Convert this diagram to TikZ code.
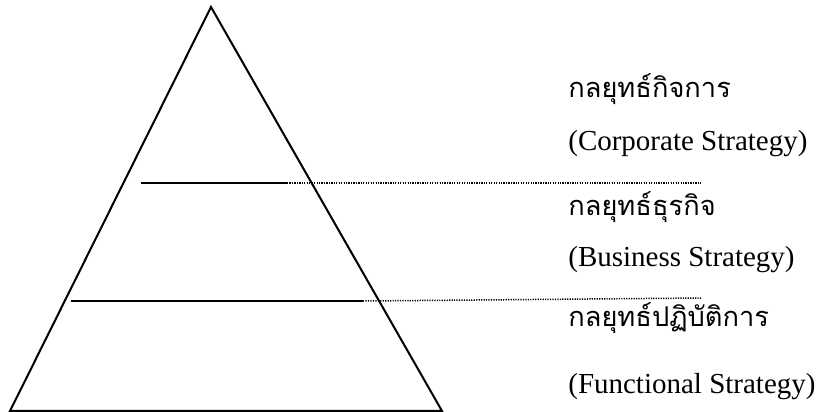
\documentclass[tikz,border=0pt]{standalone}
\usepackage{fontspec}
\setmainfont{Liberation Serif}
\newfontfamily\thaifont[Script=Thai]{Loma}
\tikzset{
  edge/.style   ={draw=black,line width=1.15pt,line join=miter},
  level/.style  ={draw=black,line width=1.1pt},
  guide/.style  ={draw=black,line width=0.85pt,dash pattern=on 0.7pt off 0.7pt},
  thlbl/.style  ={font=\thaifont\fontsize{15.5}{18}\selectfont,anchor=base west,inner sep=0pt},
  enlbl/.style  ={font=\fontsize{16.5}{19}\selectfont,anchor=base west,inner sep=0pt},
}

\begin{document}
\begin{tikzpicture}[x=0.02cm,y=-0.02cm]
\useasboundingbox (0,0) rectangle (819,412);
% triangle
\coordinate (apex) at (211,7);
\coordinate (bl) at (10,411);
\coordinate (br) at (442,411);
\draw[edge] (apex) -- (br) -- (bl) -- cycle;
% levels
\coordinate (u1) at (141,183);
\coordinate (u2) at (287,183);
\coordinate (u3) at (702,183);
\draw[level] (u1) -- (u2);
\draw[guide] (u2) -- (u3);
\coordinate (d1) at (71,301);
\coordinate (d2) at (363,301);
\coordinate (d3) at (702,298);
\draw[level] (d1) -- (d2);
\draw[guide] (d2) -- (d3);
% labels
\node[thlbl] (corpth) at (568,98)  {กลยุทธ์กิจการ};
\node[enlbl] (corpen) at (568,151) {(Corporate Strategy)};
\node[thlbl] (busth)  at (568,215) {กลยุทธ์ธุรกิจ};
\node[enlbl] (busen)  at (568,267) {(Business Strategy)};
\node[thlbl] (funth)  at (568,326) {กลยุทธ์ปฏิบัติการ};
\node[enlbl] (funen)  at (568,393) {(Functional Strategy)};
\end{tikzpicture}
\end{document}
